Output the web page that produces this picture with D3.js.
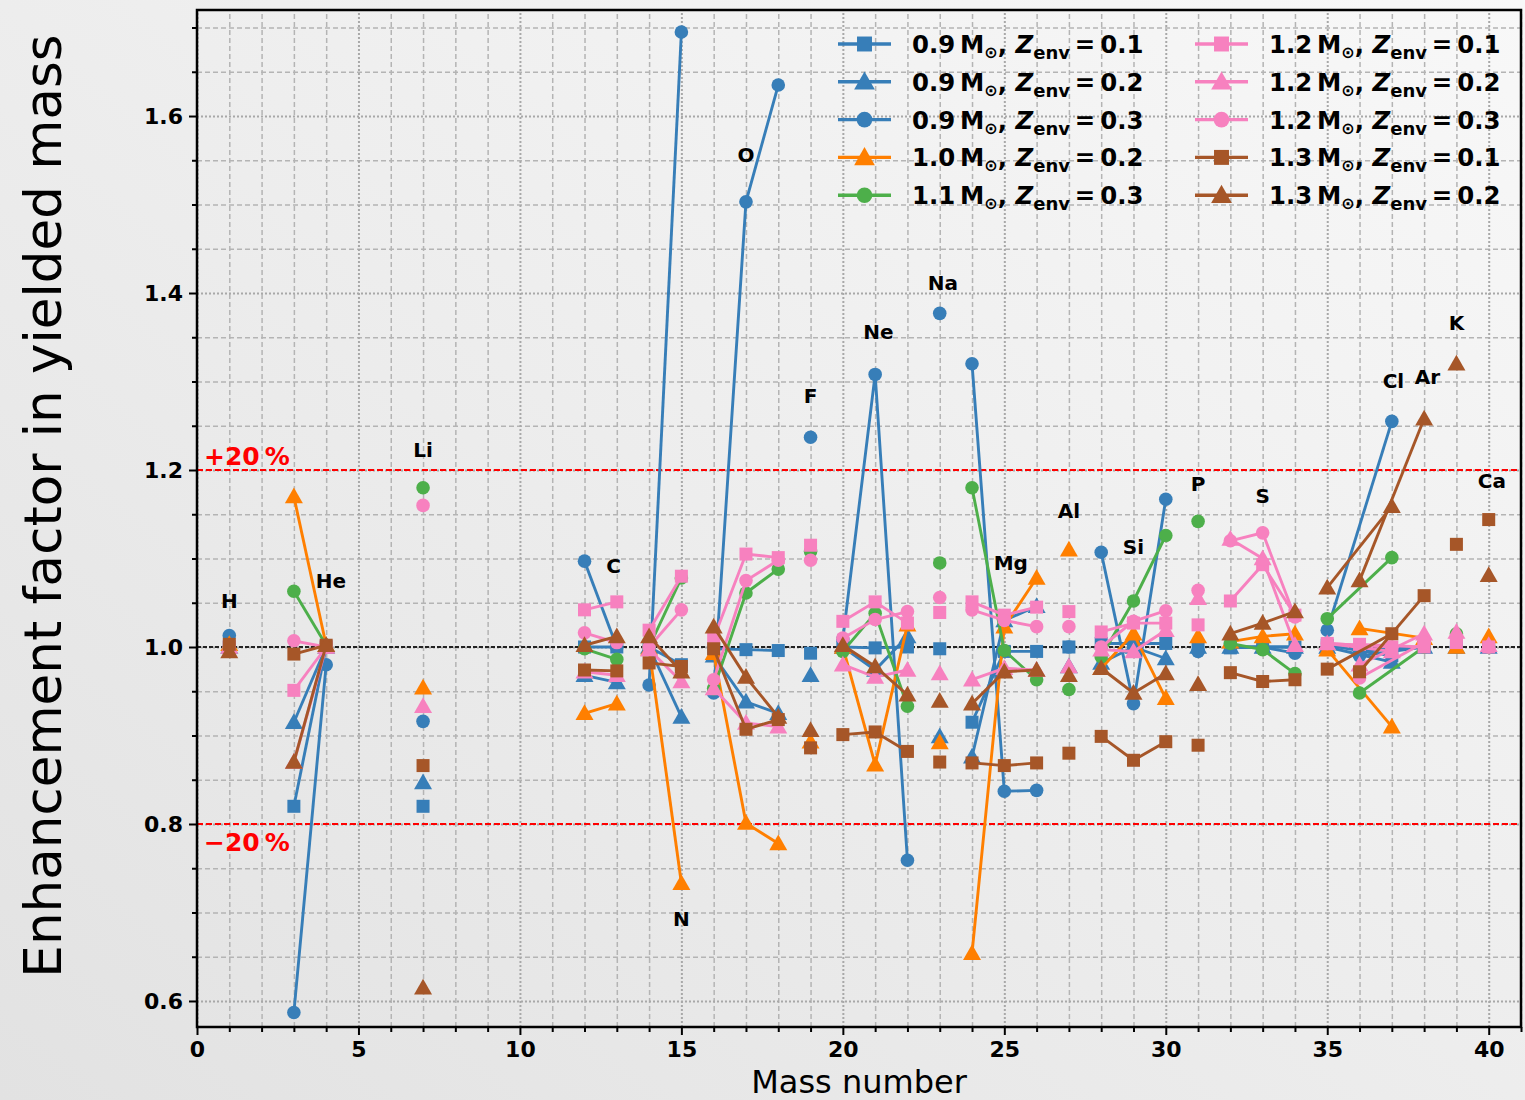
<!DOCTYPE html>
<html lang="en">
<head>
<meta charset="UTF-8"/>
<title>Enhancement factor in yielded mass</title>
<script src="https://d3js.org/d3.v7.min.js"></script>
<style>
	body { margin: 0; }
	svg text { font-family: "DejaVu Sans", sans-serif; }
	.grid-minor line { stroke: #b4b4b4; stroke-width: 1.5; stroke-dasharray: 5,3; }
	.grid-major line { stroke: #a8a8a8; stroke-width: 2; stroke-dasharray: 2,2; }
	.grid-minor path, .grid-major path { display: none; }
	.axis path { display: none; }
	.axis line { stroke: #000; stroke-width: 2; }
	.axis text { font-size: 22px; font-weight: bold; fill: #000; }
</style>
</head>
<body>
<div id="chart"></div>
<script>
var W = 1525, H = 1100;
var plotLeft = 197, plotRight = 1521, plotTop = 10, plotBottom = 1027;

// mass numbers with data
var masses = [1,3,4,7,12,13,14,15,16,17,18,19,20,21,22,23,24,25,26,27,28,29,30,31,32,33,34,35,36,37,38,39,40];

// elements: isotopes joined by lines, label position
var elNames    = ["H","He","Li","C","N","O","F","Ne","Na","Mg","Al","Si","P","S","Cl","Ar","K","Ca"];
var elIsotopes = [[1],[3,4],[7],[12,13],[14,15],[16,17,18],[19],[20,21,22],[23],[24,25,26],[27],[28,29,30],[31],[32,33,34],[35,37],[36,38],[39],[40]];
var elLabelX   = [1, 4.15, 7, 12.9, 15, 17, 19, 21.1, 23.1, 25.2, 27, 29, 31, 33, 37.05, 38.1, 39, 40.1];
var elLabelY   = [1.051, 1.074, 1.222, 1.09, 0.692, 1.555, 1.282, 1.355, 1.41, 1.094, 1.152, 1.112, 1.183, 1.17, 1.3, 1.304, 1.365, 1.187];

// series (values in order of masses)
var s09z01 = [1.0,0.820,1.0,0.820,1.0,1.0,1.0,0.980,0.998,0.997,0.996,0.993,1.0,0.999,1.0,0.998,0.915,0.995,0.995,1.0,1.004,1.004,1.004,1.0,0.999,1.0,1.0,1.002,0.995,0.990,1.0,1.0,1.0];
var s09z02 = [1.0,0.915,1.0,0.847,0.968,0.960,1.0,0.921,0.990,0.938,0.925,0.968,1.0,0.974,1.012,0.899,0.876,1.030,1.046,0.978,0.982,1.0,0.987,1.0,1.0,1.0,1.0,1.0,0.997,0.983,1.0,1.0,1.0];
var s09z03 = [1.013,0.587,0.980,0.916,1.097,1.0,0.957,1.695,0.948,1.503,1.635,1.237,1.009,1.308,0.759,1.377,1.320,0.837,0.838,1.0,1.107,0.936,1.167,0.995,1.0,1.0,0.993,1.019,0.990,1.255,1.0,1.0,1.0];
var s10z02 = [1.003,1.170,1.002,0.954,0.925,0.936,0.998,0.733,0.993,0.801,0.778,0.893,1.0,0.867,1.025,0.892,0.654,1.023,1.078,1.110,0.976,1.015,0.942,1.012,1.006,1.012,1.015,0.997,1.021,0.910,1.010,1.0,1.012];
var s11z03 = [1.0,1.063,1.002,1.180,0.998,0.986,1.0,1.078,0.953,1.061,1.088,1.108,0.995,1.038,0.933,1.095,1.180,0.996,0.963,0.952,0.989,1.052,1.126,1.142,1.004,0.997,0.970,1.032,0.948,1.101,1.0,1.015,1.0];
var s12z01 = [1.0,0.951,1.0,null,1.042,1.051,1.019,1.080,1.010,1.105,1.101,1.115,1.029,1.051,1.027,1.039,1.051,1.036,1.045,1.040,1.017,1.027,1.027,1.025,1.052,1.093,1.036,1.004,1.003,1.0,1.0,1.005,1.0];
var s12z02 = [1.0,0.870,1.0,0.933,0.972,0.968,0.997,0.961,0.953,0.914,0.910,null,0.980,0.966,0.974,0.970,0.963,0.976,0.974,0.978,0.997,0.995,1.019,1.055,1.122,1.100,1.002,1.004,0.980,0.995,1.015,1.017,1.002];
var s12z03 = [1.0,1.007,1.0,1.160,1.016,1.005,1.0,1.042,0.963,1.075,1.098,1.098,1.010,1.031,1.040,1.056,1.042,1.030,1.023,1.023,1.0,1.029,1.041,1.064,1.120,1.129,1.034,1.004,0.965,1.0,1.005,1.010,1.0];
var s13z01 = [1.003,0.992,1.002,0.866,0.974,0.973,0.982,0.978,0.998,0.907,0.918,0.886,0.901,0.904,0.882,0.870,0.869,0.866,0.869,0.880,0.899,0.872,0.893,0.889,0.971,0.961,0.963,0.975,0.972,1.015,1.058,1.116,1.144];
var s13z02 = [0.995,0.870,1.002,0.615,1.002,1.012,1.012,0.972,1.023,0.966,0.921,0.906,1.002,0.978,0.946,0.939,0.936,0.972,0.974,0.968,0.976,0.948,0.970,0.958,1.015,1.027,1.040,1.067,1.075,1.159,1.258,1.320,1.081];

var seriesValues = [s09z01, s09z02, s09z03, s10z02, s11z03, s12z01, s12z02, s12z03, s13z01, s13z02];
var seriesMass   = ["0.9","0.9","0.9","1.0","1.1","1.2","1.2","1.2","1.3","1.3"];
var seriesZ      = ["0.1","0.2","0.3","0.2","0.3","0.1","0.2","0.3","0.1","0.2"];
var seriesColor  = ["#377eb8","#377eb8","#377eb8","#ff7f00","#4daf4a","#f781bf","#f781bf","#f781bf","#a65628","#a65628"];
var seriesMarker = ["square","triangle","circle","triangle","circle","square","triangle","circle","square","triangle"];

var svg = d3.select("#chart").append("svg")
	.attr("width", W).attr("height", H);

var defs = svg.append("defs");
var grad = defs.append("linearGradient").attr("id", "bg")
	.attr("x1", "1").attr("y1", "0").attr("x2", "0").attr("y2", "1");
grad.append("stop").attr("offset", "0").attr("stop-color", "#f8f8f8");
grad.append("stop").attr("offset", "1").attr("stop-color", "#e2e2e2");
svg.append("rect").attr("width", W).attr("height", H).attr("fill", "url(#bg)");

var x = d3.scaleLinear().domain([0, 41]).range([plotLeft, plotRight]);
var y = d3.scaleLinear().domain([0.5706, 1.7198]).range([plotBottom, plotTop]);

var minorX = d3.range(0, 42, 1).filter(function(d){ return d % 5 != 0; });
var majorX = d3.range(0, 45, 5);
var minorY = d3.range(12, 35).map(function(d){ return d * 0.05; }).filter(function(d){ return Math.round(d*100) % 20 != 0; });
var majorY = [0.6, 0.8, 1.0, 1.2, 1.4, 1.6];

// grid
svg.append("g").attr("class", "grid-minor")
	.attr("transform", "translate(0," + plotBottom + ")")
	.call(d3.axisBottom(x).tickValues(minorX).tickSize(-(plotBottom - plotTop)).tickFormat(""));
svg.append("g").attr("class", "grid-minor")
	.attr("transform", "translate(" + plotLeft + ",0)")
	.call(d3.axisLeft(y).tickValues(minorY).tickSize(-(plotRight - plotLeft)).tickFormat(""));
svg.append("g").attr("class", "grid-major")
	.attr("transform", "translate(0," + plotBottom + ")")
	.call(d3.axisBottom(x).tickValues(majorX).tickSize(-(plotBottom - plotTop)).tickFormat(""));
svg.append("g").attr("class", "grid-major")
	.attr("transform", "translate(" + plotLeft + ",0)")
	.call(d3.axisLeft(y).tickValues(majorY).tickSize(-(plotRight - plotLeft)).tickFormat(""));

// reference lines
svg.append("line").attr("x1", plotLeft).attr("x2", plotRight).attr("y1", y(1.0)).attr("y2", y(1.0))
	.attr("stroke", "#222").attr("stroke-width", 2.2).attr("stroke-dasharray", "4,2");
[1.2, 0.8].forEach(function(v){
	svg.append("line").attr("x1", plotLeft).attr("x2", plotRight).attr("y1", y(v)).attr("y2", y(v))
		.attr("stroke", "#ff0000").attr("stroke-width", 2).attr("stroke-dasharray", "6,3");
});
svg.append("text").attr("x", 204).attr("y", y(1.2) - 5).attr("fill", "red")
	.attr("font-size", 25).attr("font-weight", "bold").text("+20\u2009%");
svg.append("text").attr("x", 204).attr("y", y(0.8) + 27).attr("fill", "red")
	.attr("font-size", 25).attr("font-weight", "bold").text("\u221220\u2009%");

// markers
function drawMarker(g, type, cx, cy, color, s) {
	if (type == "circle") {
		g.append("circle").attr("cx", cx).attr("cy", cy).attr("r", 6.8 * s).attr("fill", color);
	} else if (type == "square") {
		g.append("rect").attr("x", cx - 6.5 * s).attr("y", cy - 6.5 * s)
			.attr("width", 13 * s).attr("height", 13 * s).attr("fill", color);
	} else {
		var r = 9 * s;
		g.append("path").attr("fill", color)
			.attr("d", "M" + cx + "," + (cy - r) + "L" + (cx + r) + "," + (cy + r * 0.75) + "L" + (cx - r) + "," + (cy + r * 0.75) + "Z");
	}
}

var line = d3.line().x(function(d){ return x(d[0]); }).y(function(d){ return y(d[1]); });

var plot = svg.append("g");
seriesValues.forEach(function(vals, si) {
	var g = plot.append("g");
	var lookup = {};
	masses.forEach(function(m, i){ lookup[m] = vals[i]; });
	elIsotopes.forEach(function(iso) {
		var pts = iso.filter(function(m){ return lookup[m] != null; })
			.map(function(m){ return [m, lookup[m]]; });
		if (pts.length > 1) {
			g.append("path").attr("d", line(pts)).attr("fill", "none")
				.attr("stroke", seriesColor[si]).attr("stroke-width", 2.9);
		}
	});
	masses.forEach(function(m, i) {
		if (vals[i] == null) return;
		drawMarker(g, seriesMarker[si], x(m), y(vals[i]), seriesColor[si], 1);
	});
});

// element labels
svg.append("g").selectAll("text").data(elNames).enter().append("text")
	.attr("x", function(d, i){ return x(elLabelX[i]); })
	.attr("y", function(d, i){ return y(elLabelY[i]) + 6; })
	.attr("text-anchor", "middle")
	.attr("font-size", 20).attr("font-weight", "bold")
	.text(function(d){ return d; });

// frame
svg.append("rect").attr("x", plotLeft).attr("y", plotTop).attr("width", plotRight - plotLeft).attr("height", plotBottom - plotTop)
	.attr("fill", "none").attr("stroke", "#000").attr("stroke-width", 2.5);

// axes
svg.append("g").attr("class", "axis")
	.attr("transform", "translate(0," + plotBottom + ")")
	.call(d3.axisBottom(x).tickValues(minorX).tickSize(5).tickFormat(""));
svg.append("g").attr("class", "axis")
	.attr("transform", "translate(0," + plotBottom + ")")
	.call(d3.axisBottom(x).tickValues(majorX).tickSize(8).tickPadding(6).tickFormat(d3.format("d")));
svg.append("g").attr("class", "axis")
	.attr("transform", "translate(" + plotLeft + ",0)")
	.call(d3.axisLeft(y).tickValues(minorY).tickSize(5).tickFormat(""));
svg.append("g").attr("class", "axis")
	.attr("transform", "translate(" + plotLeft + ",0)")
	.call(d3.axisLeft(y).tickValues(majorY).tickSize(8).tickPadding(6).tickFormat(d3.format(".1f")));

svg.append("text").attr("x", (plotLeft + plotRight) / 2).attr("y", 1093)
	.attr("text-anchor", "middle").attr("font-size", 32).text("Mass number");
svg.append("text").attr("transform", "translate(61,506) rotate(-90)")
	.attr("text-anchor", "middle").attr("font-size", 51.5).text("Enhancement factor in yielded mass");

// legend
var legend = svg.append("g");
seriesMass.forEach(function(m, i) {
	var col = i < 5 ? 0 : 1;
	var row = i % 5;
	var lx = col == 0 ? 838 : 1195;
	var ly = 44 + row * 37.8;
	legend.append("line").attr("x1", lx).attr("x2", lx + 53).attr("y1", ly).attr("y2", ly)
		.attr("stroke", seriesColor[i]).attr("stroke-width", 3.4);
	drawMarker(legend, seriesMarker[i], lx + 26.5, ly, seriesColor[i], 1.15);
	var t = legend.append("text").attr("x", lx + 74).attr("y", ly + 9)
		.attr("font-size", 24.4).attr("font-weight", "bold");
	t.append("tspan").text(m + "\u2009M");
	t.append("tspan").attr("dy", 5).attr("font-size", 16).text("\u2299");
	t.append("tspan").attr("dy", -5).text(", ");
	t.append("tspan").attr("font-style", "italic").text("Z");
	t.append("tspan").attr("dy", 6).attr("font-size", 18).text("env");
	t.append("tspan").attr("dy", -6).text("\u2009=\u2009" + seriesZ[i]);
});
</script>
</body>
</html>
